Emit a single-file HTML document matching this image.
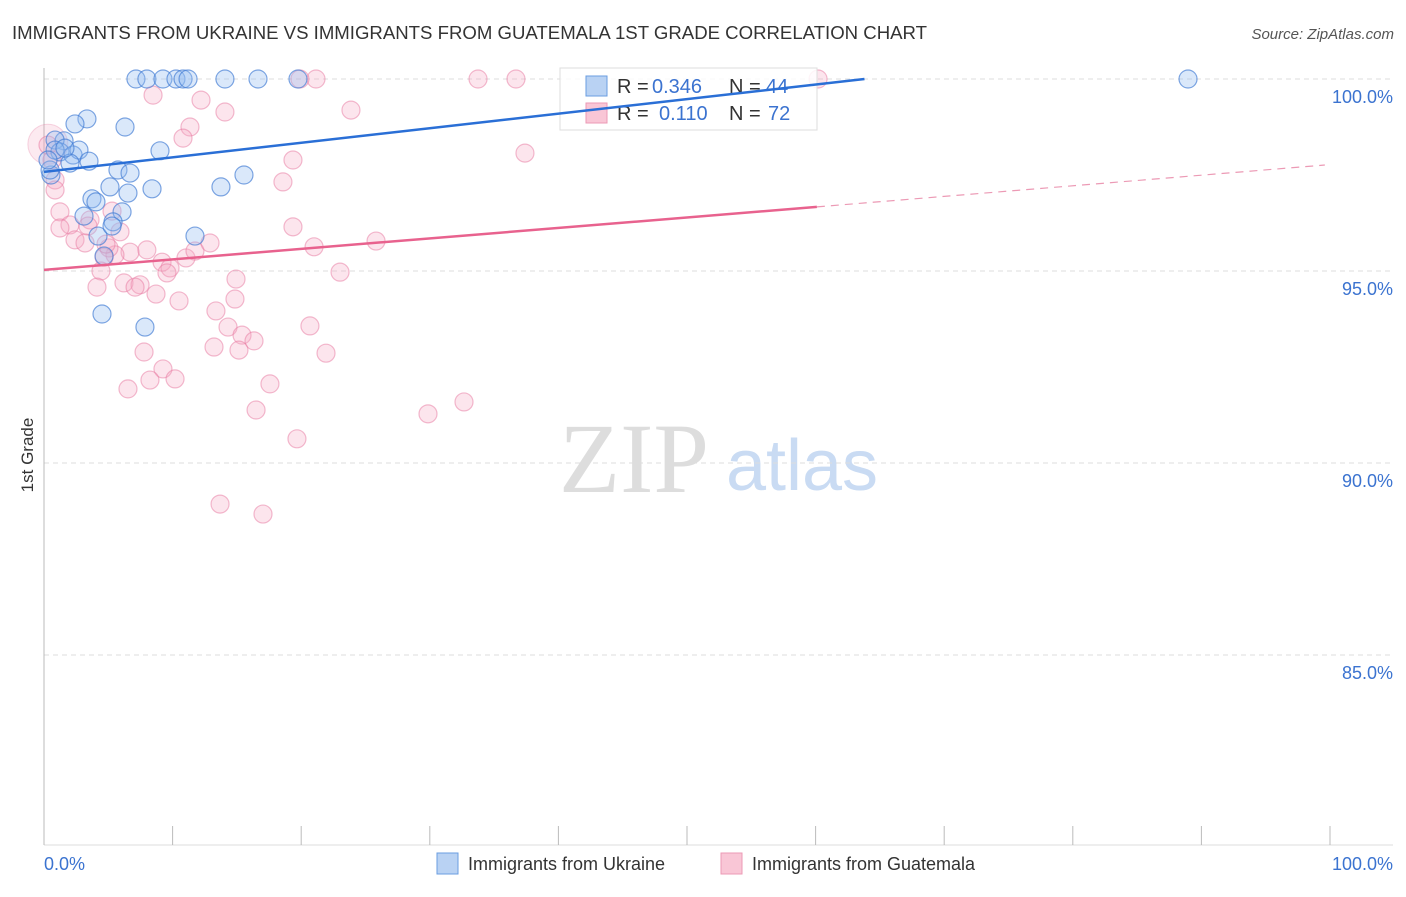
<!DOCTYPE html>
<html><head><meta charset="utf-8"><style>
body{margin:0;background:#fff;font-family:"Liberation Sans",sans-serif}
</style></head><body>
<svg width="1406" height="892" viewBox="0 0 1406 892" style="font-family:'Liberation Sans',sans-serif">
<text x="12" y="39" font-size="18" fill="#333" textLength="915" lengthAdjust="spacingAndGlyphs">IMMIGRANTS FROM UKRAINE VS IMMIGRANTS FROM GUATEMALA 1ST GRADE CORRELATION CHART</text>
<text x="1394" y="39" font-size="15" fill="#555" font-style="italic" text-anchor="end">Source: ZipAtlas.com</text>
<text x="33" y="455" font-size="17" fill="#333" transform="rotate(-90 33 455)" text-anchor="middle">1st Grade</text>
<text x="634" y="492" font-size="100" fill="#ddd" style="font-family:'Liberation Serif',serif" text-anchor="middle">ZIP</text>
<text x="802" y="490" font-size="72" fill="#c9dbf3" text-anchor="middle">atlas</text>
<g id="grid"></g><g id="axes"></g><g id="pts"></g>
<g>
<rect x="560" y="68" width="257" height="62" fill="#fff" fill-opacity="0.85" stroke="#ddd"/>
<rect x="586" y="76" width="21" height="20" fill="#b9d2f3" stroke="#6a9de0"/>
<rect x="586" y="103" width="21" height="20" fill="#f9c6d6" stroke="#ec9ab5"/>
<text x="617" y="93" font-size="20" fill="#333">R =</text>
<text x="652" y="93" font-size="20" fill="#3b73d0">0.346</text>
<text x="729" y="93" font-size="20" fill="#333">N =</text>
<text x="766" y="93" font-size="20" fill="#3b73d0">44</text>
<text x="617" y="120" font-size="20" fill="#333">R =</text>
<text x="659" y="120" font-size="20" fill="#3b73d0">0.110</text>
<text x="729" y="120" font-size="20" fill="#333">N =</text>
<text x="768" y="120" font-size="20" fill="#3b73d0">72</text>
</g>
<g id="lines"></g>
<g>
<rect x="437" y="853" width="21" height="21" fill="#b9d2f3" stroke="#6a9de0"/>
<text x="468" y="870" font-size="18" fill="#333">Immigrants from Ukraine</text>
<rect x="721" y="853" width="21" height="21" fill="#f9c6d6" stroke="#ec9ab5"/>
<text x="752" y="870" font-size="18" fill="#333">Immigrants from Guatemala</text>
</g>
</svg>
<script>
const blueX=[7.15,8.0,9.25,10.26,10.81,11.2,14.07,16.64,19.75,88.96,3.34,2.41,6.3,9.02,1.56,0.86,1.24,2.26,2.72,3.5,2.02,5.75,6.69,0.54,5.13,8.4,13.76,15.55,6.53,3.73,4.04,6.07,3.11,5.37,4.2,11.74,4.67,4.51,7.85,0.86,0.47,1.63,5.29,0.31];
const blueY=[100,100,100,100,100,100,100,100,100,100,98.96,98.83,98.75,98.13,98.39,98.41,98.1,98.02,98.15,97.86,97.81,97.63,97.55,97.5,97.19,97.14,97.19,97.5,97.03,96.88,96.8,96.54,96.43,96.28,95.91,95.91,95.39,93.88,93.54,98.15,97.63,98.2,96.17,97.89];
const pinkX=[60.19,33.75,36.7,21.15,19.9,8.48,12.21,14.07,23.87,11.35,10.81,37.4,19.36,18.58,0.86,0.86,1.24,2.02,3.58,5.91,3.42,2.41,3.19,5.29,19.36,6.69,8.0,5.52,5.05,9.18,9.8,9.56,11.04,11.74,12.91,21.0,25.82,23.02,14.93,4.43,4.12,6.22,7.47,7.08,8.71,10.5,14.85,13.37,14.31,15.4,20.68,16.33,13.22,15.16,7.78,21.93,9.25,10.19,6.53,17.57,16.49,32.66,29.86,19.67,13.69,17.03,0.31,0.62,1.24,4.67,4.82,8.24];
const pinkY=[100,100,100,100,100,99.58,99.45,99.14,99.19,98.75,98.46,98.07,97.89,97.32,97.37,97.11,96.54,96.2,96.33,96.02,96.17,95.81,95.73,96.56,96.15,95.49,95.55,95.42,95.6,95.23,95.08,94.95,95.34,95.52,95.73,95.63,95.78,94.97,94.79,95.0,94.58,94.69,94.64,94.58,94.4,94.22,94.27,93.96,93.54,93.33,93.57,93.18,93.02,92.94,92.89,92.86,92.45,92.19,91.93,92.06,91.38,91.59,91.28,90.63,88.93,88.67,98.28,97.89,96.12,95.36,95.7,92.16];
const yTicks=[100,95,90,85];
const yTickLabels=["100.0%","95.0%","90.0%","85.0%"];
const blueLine=[0,97.58,63.8,100];
const pinkLine=[0,95.03,60.1,96.67,99.6,97.76];
const NS="http://www.w3.org/2000/svg";
const sx=v=>44+v*12.86, sy=v=>79+(100-v)*38.4;
function mk(t,a,p){const e=document.createElementNS(NS,t);for(const k in a)e.setAttribute(k,a[k]);document.getElementById(p).appendChild(e);return e;}
yTicks.forEach((t,i)=>{
 let l=mk('line',{x1:44,x2:1393,y1:sy(t),y2:sy(t),stroke:'#ddd','stroke-dasharray':'5,4'},'grid');
 
 
 let tx=mk('text',{x:1393,y:sy(t)+24,'font-size':18,fill:'#3b73d0','text-anchor':'end'},'grid');
 tx.textContent=yTickLabels[i];
 
 
});
let ax=mk('line',{x1:44,x2:44,y1:68,y2:845,stroke:'#bbb'},'axes');


let bx=mk('line',{x1:44,x2:1393,y1:845,y2:845,stroke:'#ddd'},'axes');


for(let i=0;i<=10;i++){let t=mk('line',{x1:sx(i*10),x2:sx(i*10),y1:826,y2:845,stroke:'#bbb'},'axes');
 
 }
let xl=mk('text',{x:44,y:870,'font-size':18,fill:'#3b73d0'},'axes');xl.textContent='0.0%';


let xr=mk('text',{x:1393,y:870,'font-size':18,fill:'#3b73d0','text-anchor':'end'},'axes');xr.textContent='100.0%';


let big=mk('circle',{cx:sx(0.3),cy:sy(98.3),r:20,fill:'rgba(240,150,180,0.2)',stroke:'rgba(230,120,160,0.3)'},'pts');


pinkX.forEach((x,i)=>{let c=mk('circle',{cx:sx(x),cy:sy(pinkY[i]),r:9,fill:'rgba(246,170,196,0.3)',stroke:'rgba(232,120,160,0.5)','stroke-width':1.2},'pts');
 
 });
blueX.forEach((x,i)=>{let c=mk('circle',{cx:sx(x),cy:sy(blueY[i]),r:9,fill:'rgba(150,190,240,0.35)',stroke:'rgba(60,120,210,0.65)','stroke-width':1.2},'pts');
 
 });
let bl=mk('line',{x1:sx(blueLine[0]),y1:sy(blueLine[1]),x2:sx(blueLine[2]),y2:sy(blueLine[3]),stroke:'#2a6fd6','stroke-width':2.5},'lines');


let pl=mk('line',{x1:sx(pinkLine[0]),y1:sy(pinkLine[1]),x2:sx(pinkLine[2]),y2:sy(pinkLine[3]),stroke:'#e8628e','stroke-width':2.5},'lines');


let pd=mk('line',{x1:sx(pinkLine[2]),y1:sy(pinkLine[3]),x2:sx(pinkLine[4]),y2:sy(pinkLine[5]),stroke:'#ec9ab5','stroke-width':1.2,'stroke-dasharray':'8,6'},'lines');


</script>
</body></html>
